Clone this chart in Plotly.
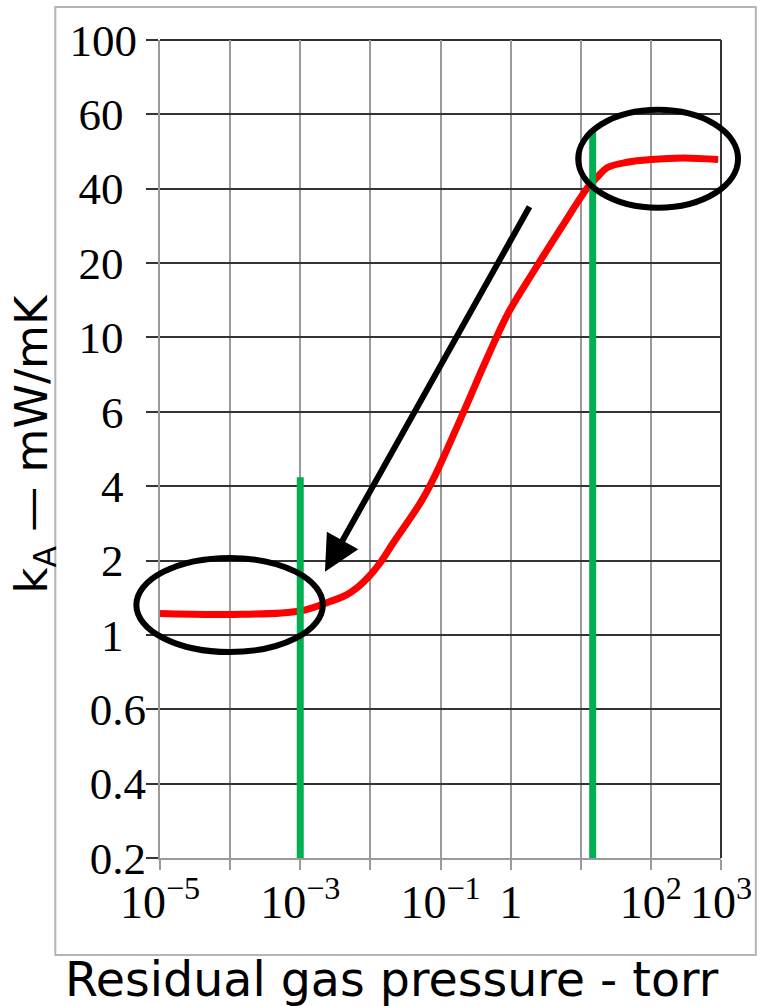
import numpy as np
import plotly.graph_objects as go

# ---- data -------------------------------------------------------------
# y-axis tick values (drawn equally spaced, as in the original chart)
y_tick_values = [0.2, 0.4, 0.6, 1, 2, 4, 6, 10, 20, 40, 60, 100]
y_tick_labels = ["0.2", "0.4", "0.6", "1\u2007", "2\u2007", "4\u2007", "6\u2007",
                 "10\u2007", "20\u2007", "40\u2007", "60\u2007", "100\u2009"]

# x-axis (log) labelled decades and unlabelled decades
x_tick_values = [1e-5, 1e-3, 1e-1, 1, 1e2, 1e3]
x_tick_labels = ["10<sup>\u22125</sup>", "10<sup>\u22123</sup>", "10<sup>\u22121</sup>",
                 "1", "10<sup>2</sup>", "10<sup>3</sup>"]
x_minor_values = [1e-4, 1e-2, 1e1]

# red curve: residual gas pressure (torr) vs k_A (mW/mK)
pressure = [1e-5, 1e-4, 1e-3, 2.75e-3, 4.5e-3, 6.6e-3, 9.5e-3, 1.38e-2, 2.1e-2, 3.3e-2,
            5.4e-2, 8.7e-2, 0.21, 0.45, 0.93, 2.2, 5.4, 12.6, 17.4, 24, 46, 100, 290, 910]
conductivity = [1.22, 1.21, 1.25, 1.37, 1.45, 1.56, 1.72, 1.96, 2.35, 2.83,
                3.5, 4.3, 5.96, 8.58, 12.6, 18.8, 28.1, 40.3, 42.7, 44.9, 46.2, 46.9, 47.3, 46.9]

# green vertical markers: pressure and top k_A value
green_pressure = [1e-3, 14.8]
green_top = [4.2, 55]
green_bottom = [0.2, 0.2]

# annotation ellipses (pressure range, k_A range)
ellipse_p = [(4.6e-6, 2.1e-3), (9.2, 1750)]
ellipse_k = [(0.889, 2.05), (33.5, 61.9)]

# arrow: from (tail) to (tip)
arrow_tail = (1.91, 34.3)
arrow_tip = (2.25e-3, 1.8)

X_MIN, X_MAX = -5, 3
N_Y = len(y_tick_values) - 1

# ---- scale helpers ---------------------------------------------------
idx = np.arange(len(y_tick_values))
def ypos(k):
    return np.interp(np.log10(k), np.log10(y_tick_values), idx)

def xpaper(p):
    return (np.log10(p) - X_MIN) / (X_MAX - X_MIN)

def ypaper(k):
    return float(ypos(k)) / N_Y

fig = go.Figure()

# red curve
fig.add_trace(go.Scatter(
    x=pressure, y=ypos(conductivity), mode="lines",
    line=dict(color="#ff0000", width=7, shape="spline", smoothing=1.0),
    showlegend=False, hoverinfo="skip"))

# green vertical lines
for p, lo, hi in zip(green_pressure, green_bottom, green_top):
    fig.add_trace(go.Scatter(
        x=[p, p], y=ypos([lo, hi]), mode="lines",
        line=dict(color="#00b050", width=7),
        showlegend=False, hoverinfo="skip"))

shapes = []
# ellipses
for (p0, p1), (k0, k1) in zip(ellipse_p, ellipse_k):
    shapes.append(dict(type="circle", xref="paper", yref="paper",
                       x0=xpaper(p0), x1=xpaper(p1), y0=ypaper(k0), y1=ypaper(k1),
                       line=dict(color="black", width=6), layer="above"))
# right / top edges of the chart (dark)
shapes.append(dict(type="line", xref="paper", yref="paper", x0=1, x1=1, y0=0, y1=1,
                   line=dict(color="#333333", width=2), layer="below"))
shapes.append(dict(type="line", xref="paper", yref="paper", x0=0, x1=1, y0=1, y1=1,
                   line=dict(color="#333333", width=2), layer="below"))
# outer picture frame
shapes.append(dict(type="rect", xref="paper", yref="paper",
                   x0=-0.1866, x1=1.062, y0=-0.1186, y1=1.0403,
                   line=dict(color="#b4b4b4", width=2), layer="below"))

annotations = [
    dict(x=np.log10(arrow_tip[0]), y=float(ypos(arrow_tip[1])),
         ax=np.log10(arrow_tail[0]), ay=float(ypos(arrow_tail[1])),
         xref="x", yref="y", axref="x", ayref="y", text="",
         showarrow=True, arrowhead=2, arrowsize=1.2, arrowwidth=6,
         arrowcolor="black", standoff=0),
    dict(text="k<sub>A</sub> \u2014 mW/mK", xref="paper", yref="paper",
         x=-0.224, y=0.507, textangle=-90, showarrow=False,
         xanchor="center", yanchor="middle",
         font=dict(family="DejaVu Sans", size=45, color="black")),
    dict(text="Residual gas pressure - torr", xref="paper", yref="paper",
         x=0.4137, y=-0.149, showarrow=False, xanchor="center", yanchor="middle",
         font=dict(family="DejaVu Sans", size=47.5, color="black")),
]

fig.update_layout(
    width=764, height=1006,
    margin=dict(l=160, r=36, t=40, b=148),
    paper_bgcolor="white", plot_bgcolor="white",
    shapes=shapes, annotations=annotations,
    xaxis=dict(type="log", range=[X_MIN, X_MAX],
               tickmode="array", tickvals=x_tick_values, ticktext=x_tick_labels,
               showgrid=True, gridcolor="#9a9a9a", gridwidth=2,
               showline=True, linecolor="#9a9a9a", linewidth=2,
               ticks="outside", ticklen=10, tickwidth=2, tickcolor="#9a9a9a",
               tickangle=0, ticklabelstandoff=-7,
               minor=dict(tickmode="array", tickvals=x_minor_values,
                          showgrid=True, gridcolor="#9a9a9a", gridwidth=2,
                          ticks="outside", ticklen=10, tickwidth=2, tickcolor="#9a9a9a"),
               tickfont=dict(family="Liberation Serif", size=46, color="black")),
    yaxis=dict(range=[0, N_Y], tickmode="array", tickvals=list(idx),
               ticktext=y_tick_labels, zeroline=False,
               showgrid=True, gridcolor="#333333", gridwidth=2,
               showline=True, linecolor="#9a9a9a", linewidth=2,
               ticks="outside", ticklen=12, tickwidth=2, tickcolor="#333333",
               ticklabelstandoff=-9,
               tickfont=dict(family="Liberation Serif", size=45, color="black")),
)

fig.write_html("out.html")
